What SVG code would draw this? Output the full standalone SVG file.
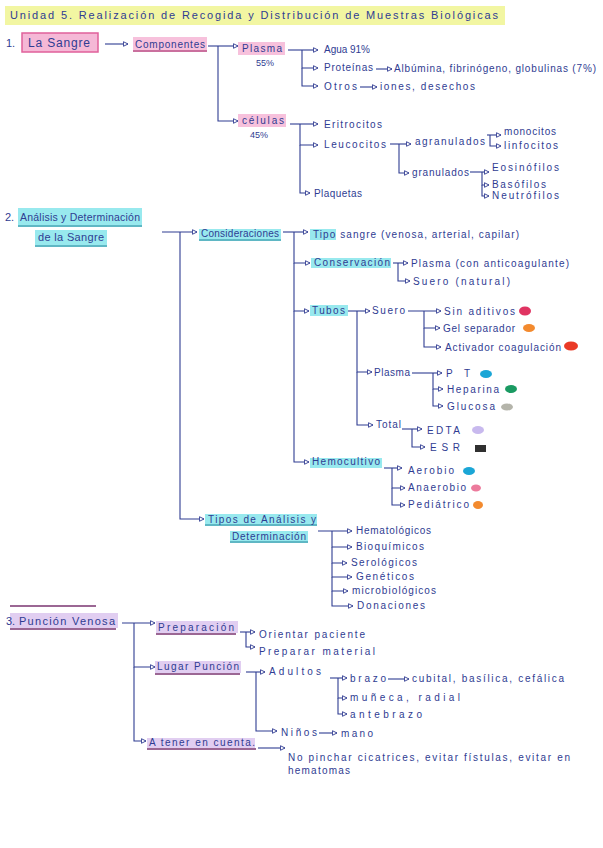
<svg xmlns="http://www.w3.org/2000/svg" width="603" height="848" viewBox="0 0 603 848">
<style>
.t{font-family:"Liberation Sans","DejaVu Sans",sans-serif;font-size:10px;fill:#2f3c92;}
.s{font-size:9px;}
.b{font-size:11px;}
.c{stroke:#2f3c92;stroke-width:1.1;fill:none;}
.a{marker-end:url(#arr);}
.hp{fill:#f6b6d6;opacity:0.85;}
.hc{fill:#7ee3ea;opacity:0.8;}
.hv{fill:#dcc6ee;opacity:0.85;}
.up{stroke:#b8407e;stroke-width:1.3;}
.uc{stroke:#2a9fb0;stroke-width:1.3;}
.uv{stroke:#7a3470;stroke-width:1.4;}
</style>
<defs>
<marker id="arr" viewBox="0 0 8 8" refX="7" refY="4" markerWidth="5.5" markerHeight="5.5" orient="auto"><path d="M1 1 L7 4 L1 7 Z" fill="#fff" stroke="#2f3c92" stroke-width="1.2"/></marker>
</defs>
<rect width="603" height="848" fill="#fff"/>

<g id="connectors">
<path class="c a" d="M105 44 H128"/>
<path class="c a" d="M208 46 H238"/>
<path class="c a" d="M218 46 V121 H238"/>
<path class="c a" d="M288 50 H318"/>
<path class="c a" d="M302 50 V68 H318"/>
<path class="c a" d="M302 68 V86 H318"/>
<path class="c a" d="M376 69 H392"/>
<path class="c a" d="M360 87 H377"/>
<path class="c a" d="M290 124 H318"/>
<path class="c a" d="M300 124 V145 H318"/>
<path class="c a" d="M300 145 V193 H310"/>
<path class="c a" d="M390 144 H411"/>
<path class="c a" d="M399 144 V173 H409"/>
<path class="c a" d="M487 135 H501"/>
<path class="c a" d="M490 135 V146 H501"/>
<path class="c a" d="M470 172 H489"/>
<path class="c a" d="M482 172 V185 H489"/>
<path class="c a" d="M482 185 V196 H489"/>

<path class="c a" d="M162 232 H197"/>
<path class="c a" d="M180 232 V519 H204"/>
<path class="c a" d="M283 232 H308"/>
<path class="c a" d="M294 232 V263 H310"/>
<path class="c a" d="M294 263 V311 H309"/>
<path class="c a" d="M294 311 V462 H309"/>
<path class="c a" d="M393 263 H408"/>
<path class="c a" d="M398 263 V281 H410"/>
<path class="c a" d="M348 311 H370"/>
<path class="c a" d="M357 311 V372 H372"/>
<path class="c a" d="M357 372 V425 H373"/>
<path class="c a" d="M408 311 H441"/>
<path class="c a" d="M424 311 V328 H440"/>
<path class="c a" d="M424 328 V347 H441"/>
<path class="c a" d="M412 373 H442"/>
<path class="c a" d="M433 373 V389 H443"/>
<path class="c a" d="M433 389 V406 H443"/>
<path class="c a" d="M402 429 H422"/>
<path class="c a" d="M412 429 V447 H425"/>
<path class="c a" d="M384 468 H402"/>
<path class="c a" d="M392 468 V488 H405"/>
<path class="c a" d="M392 488 V505 H405"/>
<path class="c a" d="M318 531 H352"/>
<path class="c a" d="M332 531 V547 H352"/>
<path class="c a" d="M332 547 V563 H347"/>
<path class="c a" d="M332 563 V577 H352"/>
<path class="c a" d="M332 577 V591 H348"/>
<path class="c a" d="M332 591 V606 H353"/>

<path class="c a" d="M122 623 H155"/>
<path class="c a" d="M134 623 V667 H155"/>
<path class="c a" d="M134 667 V741 H146"/>
<path class="c a" d="M240 632 H255"/>
<path class="c a" d="M246 632 V647 H255"/>
<path class="c a" d="M246 672 H265"/>
<path class="c a" d="M256 672 V731 H277"/>
<path class="c a" d="M319 733 H337"/>
<path class="c a" d="M330 678 H347"/>
<path class="c a" d="M338 678 V698 H347"/>
<path class="c a" d="M338 698 V714 H347"/>
<path class="c a" d="M388 679 H409"/>
<path class="c a" d="M258 748 H285"/>
</g>

<g id="title">
<rect x="5" y="6" width="500" height="19" fill="#f2f6a2"/>
<text class="t b" x="10" y="19" textLength="488" lengthAdjust="spacing">Unidad 5. Realización de Recogida y Distribución de Muestras Biológicas</text>
</g>

<g id="n-sangre">
<text class="t b" x="6" y="47">1.</text>
<rect x="22" y="33" width="76" height="19" fill="#f5b8d6" stroke="#e0609a" stroke-width="1.5"/>
<text class="t" x="28" y="47" style="font-size:12px" textLength="62" lengthAdjust="spacing">La Sangre</text>
</g>
<g id="n-componentes">
<rect class="hp" x="133" y="37" width="74" height="13"/>
<line class="up" x1="133" y1="51" x2="207" y2="51"/>
<text class="t" x="135" y="48" textLength="70" lengthAdjust="spacing">Componentes</text>
</g>
<g id="n-plasma">
<rect class="hp" x="238" y="42" width="47" height="13"/>
<text class="t" x="242" y="52" textLength="40" lengthAdjust="spacing">Plasma</text>
<text class="t s" x="256" y="66">55%</text>
</g>
<g id="n-agua"><text class="t" x="324" y="53" textLength="46" lengthAdjust="spacing">Agua 91%</text></g>
<g id="n-proteinas"><text class="t" x="324" y="71" textLength="49" lengthAdjust="spacing">Proteínas</text></g>
<g id="n-albumina"><text class="t" x="394" y="72" textLength="202" lengthAdjust="spacing">Albúmina, fibrinógeno, globulinas (7%)</text></g>
<g id="n-otros"><text class="t" x="324" y="90" textLength="33" lengthAdjust="spacing">Otros</text></g>
<g id="n-iones"><text class="t" x="380" y="90" textLength="95" lengthAdjust="spacing">iones, desechos</text></g>
<g id="n-celulas">
<rect class="hp" x="238" y="114" width="48" height="13"/>
<text class="t" x="242" y="124" textLength="42" lengthAdjust="spacing">células</text>
<text class="t s" x="250" y="138">45%</text>
</g>
<g id="n-eritrocitos"><text class="t" x="324" y="128" textLength="58" lengthAdjust="spacing">Eritrocitos</text></g>
<g id="n-leucocitos"><text class="t" x="324" y="148" textLength="62" lengthAdjust="spacing">Leucocitos</text></g>
<g id="n-plaquetas"><text class="t" x="314" y="197" textLength="48" lengthAdjust="spacing">Plaquetas</text></g>
<g id="n-agranulados"><text class="t" x="415" y="145" textLength="70" lengthAdjust="spacing">agranulados</text></g>
<g id="n-granulados"><text class="t" x="412" y="176" textLength="57" lengthAdjust="spacing">granulados</text></g>
<g id="n-monocitos"><text class="t" x="504" y="135" textLength="52" lengthAdjust="spacing">monocitos</text></g>
<g id="n-linfocitos"><text class="t" x="504" y="149" textLength="54" lengthAdjust="spacing">linfocitos</text></g>
<g id="n-eosinofilos"><text class="t" x="492" y="171" textLength="67" lengthAdjust="spacing">Eosinófilos</text></g>
<g id="n-basofilos"><text class="t" x="492" y="188" textLength="54" lengthAdjust="spacing">Basófilos</text></g>
<g id="n-neutrofilos"><text class="t" x="492" y="199" textLength="67" lengthAdjust="spacing">Neutrófilos</text></g>

<g id="n-analisis">
<rect class="hc" x="18" y="208" width="124" height="17"/>
<rect class="hc" x="35" y="230" width="72" height="15"/>
<line class="uc" x1="18" y1="226" x2="142" y2="226"/>
<line class="uc" x1="35" y1="246" x2="107" y2="246"/>
<text class="t b" x="5" y="221">2.</text>
<text class="t" x="20" y="221" style="font-size:10.5px" textLength="120" lengthAdjust="spacing">Análisis y Determinación</text>
<text class="t b" x="38" y="241" textLength="66" lengthAdjust="spacing">de la Sangre</text>
</g>
<g id="n-consideraciones">
<rect class="hc" x="199" y="229" width="82" height="10"/>
<line class="uc" x1="199" y1="240" x2="281" y2="240"/>
<text class="t" x="201" y="237" textLength="78" lengthAdjust="spacing">Consideraciones</text>
</g>
<g id="n-tipo">
<rect class="hc" x="310" y="229" width="26" height="11"/>
<text class="t" x="313" y="238" textLength="206" lengthAdjust="spacing">Tipo sangre (venosa, arterial, capilar)</text>
</g>
<g id="n-conservacion">
<rect class="hc" x="311" y="258" width="80" height="10"/>
<text class="t" x="314" y="266" textLength="76" lengthAdjust="spacing">Conservación</text>
</g>
<g id="n-plasma-anti"><text class="t" x="411" y="267" textLength="158" lengthAdjust="spacing">Plasma (con anticoagulante)</text></g>
<g id="n-suero-nat"><text class="t" x="413" y="285" textLength="97" lengthAdjust="spacing">Suero (natural)</text></g>
<g id="n-tubos">
<rect class="hc" x="310" y="305" width="38" height="11"/>
<text class="t" x="312" y="314" textLength="33" lengthAdjust="spacing">Tubos</text>
</g>
<g id="n-suero"><text class="t" x="372" y="314" textLength="33" lengthAdjust="spacing">Suero</text></g>
<g id="n-sinaditivos"><text class="t" x="444" y="315" textLength="71" lengthAdjust="spacing">Sin aditivos</text><ellipse cx="525" cy="311" rx="6" ry="4.5" fill="#e03462"/></g>
<g id="n-gel"><text class="t" x="443" y="332" textLength="72" lengthAdjust="spacing">Gel separador</text><ellipse cx="529" cy="328" rx="6" ry="4" fill="#f38a2e"/></g>
<g id="n-activador"><text class="t" x="445" y="351" textLength="116" lengthAdjust="spacing">Activador coagulación</text><ellipse cx="571" cy="346" rx="7" ry="4.5" fill="#ea3a26"/></g>
<g id="n-plasma2"><text class="t" x="374" y="376" textLength="36" lengthAdjust="spacing">Plasma</text></g>
<g id="n-pt"><text class="t" x="446" y="377" textLength="24" lengthAdjust="spacing">PT</text><ellipse cx="486" cy="374" rx="6" ry="4" fill="#1ba6d6"/></g>
<g id="n-heparina"><text class="t" x="447" y="393" textLength="52" lengthAdjust="spacing">Heparina</text><ellipse cx="511" cy="389" rx="6" ry="4" fill="#1a9a62"/></g>
<g id="n-glucosa"><text class="t" x="447" y="410" textLength="48" lengthAdjust="spacing">Glucosa</text><ellipse cx="507" cy="407" rx="6" ry="3.5" fill="#b4b4aa"/></g>
<g id="n-total"><text class="t" x="376" y="428" textLength="25" lengthAdjust="spacing">Total</text></g>
<g id="n-edta"><text class="t" x="427" y="434" textLength="33" lengthAdjust="spacing">EDTA</text><ellipse cx="478" cy="430" rx="6" ry="4" fill="#c8b9ee"/></g>
<g id="n-esr"><text class="t" x="430" y="451" textLength="30" lengthAdjust="spacing">ESR</text><rect x="475" y="445" width="11" height="7" fill="#303030"/></g>
<g id="n-hemocultivo">
<rect class="hc" x="310" y="458" width="72" height="10"/>
<text class="t" x="312" y="465" textLength="68" lengthAdjust="spacing">Hemocultivo</text>
</g>
<g id="n-aerobio"><text class="t" x="408" y="474" textLength="46" lengthAdjust="spacing">Aerobio</text><ellipse cx="469" cy="471" rx="6" ry="4" fill="#1ba6d6"/></g>
<g id="n-anaerobio"><text class="t" x="408" y="491" textLength="58" lengthAdjust="spacing">Anaerobio</text><ellipse cx="476" cy="488" rx="5" ry="3.5" fill="#ec7a9c"/></g>
<g id="n-pediatrico"><text class="t" x="408" y="508" textLength="61" lengthAdjust="spacing">Pediátrico</text><ellipse cx="478" cy="505" rx="5" ry="4" fill="#f38a2e"/></g>
<g id="n-tipos">
<rect class="hc" x="205" y="514" width="112" height="10"/>
<rect class="hc" x="230" y="531" width="78" height="10"/>
<line class="uc" x1="205" y1="525" x2="317" y2="525"/>
<line class="uc" x1="230" y1="542" x2="308" y2="542"/>
<text class="t" x="208" y="523" textLength="108" lengthAdjust="spacing">Tipos de Análisis y</text>
<text class="t" x="232" y="540" textLength="74" lengthAdjust="spacing">Determinación</text>
</g>
<g id="n-hematologicos"><text class="t" x="356" y="534" textLength="75" lengthAdjust="spacing">Hematológicos</text></g>
<g id="n-bioquimicos"><text class="t" x="356" y="550" textLength="68" lengthAdjust="spacing">Bioquímicos</text></g>
<g id="n-serologicos"><text class="t" x="351" y="566" textLength="66" lengthAdjust="spacing">Serológicos</text></g>
<g id="n-geneticos"><text class="t" x="356" y="580" textLength="58" lengthAdjust="spacing">Genéticos</text></g>
<g id="n-microbiologicos"><text class="t" x="352" y="594" textLength="84" lengthAdjust="spacing">microbiológicos</text></g>
<g id="n-donaciones"><text class="t" x="357" y="609" textLength="68" lengthAdjust="spacing">Donaciones</text></g>

<g id="n-puncion">
<line class="uv" x1="10" y1="606" x2="96" y2="606"/>
<rect class="hv" x="10" y="613" width="108" height="15"/>
<line class="uv" x1="10" y1="629" x2="116" y2="629"/>
<text class="t b" x="6" y="625">3.</text>
<text class="t b" x="19" y="625" textLength="96" lengthAdjust="spacing">Punción Venosa</text>
</g>
<g id="n-preparacion">
<rect class="hv" x="156" y="621" width="82" height="12"/>
<line class="uv" x1="156" y1="634" x2="236" y2="634"/>
<text class="t" x="158" y="631" textLength="76" lengthAdjust="spacing">Preparación</text>
</g>
<g id="n-orientar"><text class="t" x="259" y="638" textLength="106" lengthAdjust="spacing">Orientar paciente</text></g>
<g id="n-preparar"><text class="t" x="259" y="655" textLength="116" lengthAdjust="spacing">Preparar material</text></g>
<g id="n-lugar">
<rect class="hv" x="155" y="661" width="86" height="12"/>
<line class="uv" x1="155" y1="674" x2="240" y2="674"/>
<text class="t" x="157" y="670" textLength="82" lengthAdjust="spacing">Lugar Punción</text>
</g>
<g id="n-adultos"><text class="t" x="269" y="675" textLength="52" lengthAdjust="spacing">Adultos</text></g>
<g id="n-brazo"><text class="t" x="350" y="682" textLength="36" lengthAdjust="spacing">brazo</text></g>
<g id="n-cubital"><text class="t" x="412" y="682" textLength="152" lengthAdjust="spacing">cubital, basílica, cefálica</text></g>
<g id="n-muneca"><text class="t" x="350" y="701" textLength="110" lengthAdjust="spacing">muñeca, radial</text></g>
<g id="n-antebrazo"><text class="t" x="350" y="718" textLength="72" lengthAdjust="spacing">antebrazo</text></g>
<g id="n-ninos"><text class="t" x="281" y="736" textLength="36" lengthAdjust="spacing">Niños</text></g>
<g id="n-mano"><text class="t" x="341" y="737" textLength="32" lengthAdjust="spacing">mano</text></g>
<g id="n-tener">
<rect class="hv" x="147" y="738" width="108" height="10"/>
<line class="uv" x1="147" y1="749" x2="256" y2="749"/>
<text class="t" x="149" y="746" textLength="106" lengthAdjust="spacing">A tener en cuenta.</text>
</g>
<g id="n-nopinchar">
<text class="t" x="288" y="761" textLength="282" lengthAdjust="spacing">No pinchar cicatrices, evitar fístulas, evitar en</text>
<text class="t" x="288" y="774" textLength="62" lengthAdjust="spacing">hematomas</text>
</g>
</svg>
